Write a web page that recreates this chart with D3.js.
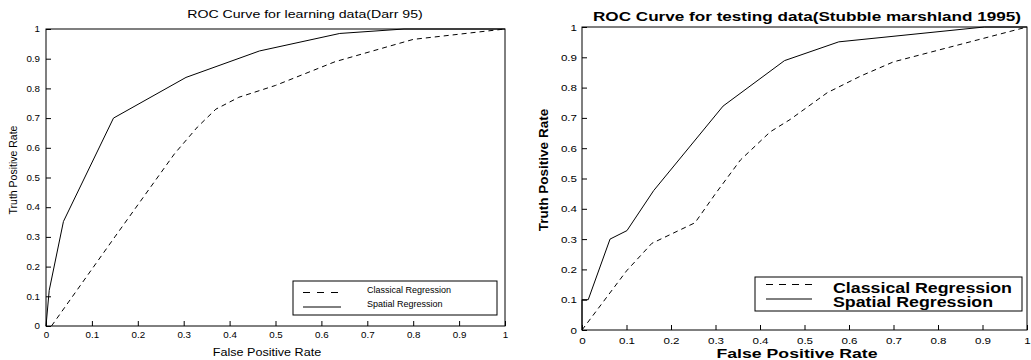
<!DOCTYPE html>
<html>
<head>
<meta charset="utf-8">
<script src="https://cdn.jsdelivr.net/npm/d3@7"></script>
<style>
  body { margin: 0; background: #fff; }
  svg text { font-family: "Liberation Sans", Arial, Helvetica, sans-serif; fill: #000; }
</style>
</head>
<body>
<div id="chart"></div>
<script>
// axis ticks shared by both panels
const tickValues = [0, 0.1, 0.2, 0.3, 0.4, 0.5, 0.6, 0.7, 0.8, 0.9, 1];
const tickLabels = ["0", "0.1", "0.2", "0.3", "0.4", "0.5", "0.6", "0.7", "0.8", "0.9", "1"];
const seriesNames = ["Classical Regression", "Spatial Regression"];

// learning data (Darr 95)
const learnClassicalFpr = [0.012, 0.15, 0.28, 0.33, 0.37, 0.42, 0.5, 0.63, 0.8, 1];
const learnClassicalTpr = [0, 0.30, 0.58, 0.67, 0.73, 0.77, 0.81, 0.89, 0.965, 1];
const learnSpatialFpr = [0, 0.007, 0.038, 0.147, 0.305, 0.465, 0.64, 0.78, 1];
const learnSpatialTpr = [0, 0.12, 0.352, 0.70, 0.837, 0.926, 0.985, 1, 1];

// testing data (Stubble marshland 1995)
const testClassicalFpr = [0, 0.1, 0.157, 0.254, 0.30, 0.356, 0.423, 0.468, 0.551, 0.626, 0.70, 1];
const testClassicalTpr = [0, 0.195, 0.286, 0.354, 0.45, 0.561, 0.654, 0.695, 0.783, 0.838, 0.885, 1];
const testSpatialFpr = [0, 0, 0.014, 0.063, 0.101, 0.161, 0.317, 0.455, 0.577, 0.904, 1];
const testSpatialTpr = [0, 0.1, 0.1, 0.30, 0.328, 0.46, 0.739, 0.889, 0.951, 1, 1];

const svg = d3.select("#chart").append("svg")
    .attr("width", 1031)
    .attr("height", 360);

function zip(xs, ys) {
    return xs.map((x, i) => ({ x: x, y: ys[i] }));
}

// the source figure was squeezed vertically, so text is drawn wider than tall
function wideText(parent, x, y, str, size, sx, bold) {
    return parent.append("text")
        .attr("transform", `translate(${x},${y}) scale(${sx},1)`)
        .style("font-size", size + "px")
        .style("font-weight", bold ? "bold" : "normal")
        .text(str);
}

function drawPanel(cfg) {
    const x = d3.scaleLinear().domain([0, 1]).range([cfg.left, cfg.right]);
    const y = d3.scaleLinear().domain([0, 1]).range([cfg.bottom, cfg.top]);
    const g = svg.append("g");

    // curves
    const line = d3.line().x(d => x(d.x)).y(d => y(d.y));
    g.append("path")
        .datum(zip(cfg.classicalFpr, cfg.classicalTpr))
        .attr("d", line)
        .attr("fill", "none")
        .attr("stroke", "#000")
        .attr("stroke-width", 1)
        .attr("stroke-dasharray", "5,4");
    g.append("path")
        .datum(zip(cfg.spatialFpr, cfg.spatialTpr))
        .attr("d", line)
        .attr("fill", "none")
        .attr("stroke", "#000")
        .attr("stroke-width", 1);

    // axes, ticks pointing inwards like matlab
    const xAxis = d3.axisBottom(x).tickValues(tickValues)
        .tickFormat((d, i) => tickLabels[i]).tickSizeInner(-cfg.tick).tickSizeOuter(0);
    const yAxis = d3.axisLeft(y).tickValues(tickValues)
        .tickFormat((d, i) => tickLabels[i]).tickSizeInner(-cfg.tick).tickSizeOuter(0);

    const gx = g.append("g").attr("transform", `translate(0,${cfg.bottom})`).call(xAxis);
    const gy = g.append("g").attr("transform", `translate(${cfg.left},0)`).call(yAxis);
    [gx, gy].forEach(a => {
        a.select(".domain").remove();
        a.selectAll("line").attr("stroke", "#000");
        a.selectAll("text")
            .style("font-size", cfg.tickFont + "px")
            .attr("fill", "#000")
            .attr("transform", `scale(${cfg.tickSx},1)`);
    });
    gx.selectAll("text").attr("y", cfg.xTickDy).attr("dy", "0");
    gy.selectAll("text").attr("x", -cfg.yTickGap / cfg.tickSx);

    // box
    g.append("rect")
        .attr("x", cfg.left).attr("y", cfg.top)
        .attr("width", cfg.right - cfg.left).attr("height", cfg.bottom - cfg.top)
        .attr("fill", "none").attr("stroke", "#000").attr("stroke-width", 1);

    // title and axis labels
    wideText(g, cfg.titleX, cfg.titleY, cfg.title, cfg.titleFont, cfg.titleSx, cfg.bold)
        .attr("text-anchor", "middle");
    wideText(g, cfg.xLabelX, cfg.xLabelY, "False Positive Rate", cfg.labelFont, cfg.labelSx, cfg.bold)
        .attr("text-anchor", "middle");
    g.append("text")
        .attr("transform", `translate(${cfg.yLabelX},${cfg.yLabelY}) rotate(-90)`)
        .attr("text-anchor", "middle")
        .style("font-size", cfg.yLabelFont + "px")
        .style("font-weight", cfg.bold ? "bold" : "normal")
        .text("Truth Positive Rate");

    // legend
    const lg = cfg.legend;
    g.append("rect")
        .attr("x", lg.x).attr("y", lg.y).attr("width", lg.w).attr("height", lg.h)
        .attr("fill", "#fff").attr("stroke", "#000").attr("stroke-width", 1);
    seriesNames.forEach((name, i) => {
        const ly = lg.rows[i];
        g.append("line")
            .attr("x1", lg.lineX1).attr("x2", lg.lineX2)
            .attr("y1", ly).attr("y2", ly)
            .attr("stroke", "#000").attr("stroke-width", 1)
            .attr("stroke-dasharray", i === 0 ? lg.dash : null);
        wideText(g, lg.textX, ly + lg.textDy, name, lg.font, lg.sx, cfg.bold);
    });
}

drawPanel({
    left: 46, right: 505, top: 29, bottom: 326, tick: 5,
    tickFont: 8.5, tickSx: 1.15, xTickDy: 12, yTickGap: 6,
    title: "ROC Curve for learning data(Darr 95)", titleX: 305, titleY: 18, titleFont: 11.5, titleSx: 1.23,
    bold: false, labelFont: 10.5, labelSx: 1.2, xLabelX: 267, xLabelY: 356,
    yLabelFont: 10.5, yLabelX: 17, yLabelY: 170,
    classicalFpr: learnClassicalFpr, classicalTpr: learnClassicalTpr,
    spatialFpr: learnSpatialFpr, spatialTpr: learnSpatialTpr,
    legend: { x: 293, y: 281, w: 204, h: 34, rows: [292.5, 307], lineX1: 303, lineX2: 341,
              dash: "7,7", textX: 367, textDy: 0, font: 9, sx: 1 }
});

drawPanel({
    left: 582, right: 1027, top: 27, bottom: 330, tick: 5,
    tickFont: 9.5, tickSx: 1.22, xTickDy: 14, yTickGap: 5,
    title: "ROC Curve for testing data(Stubble marshland 1995)", titleX: 807, titleY: 20.5, titleFont: 12.5, titleSx: 1.37,
    bold: true, labelFont: 13, labelSx: 1.36, xLabelX: 797, xLabelY: 358,
    yLabelFont: 13.5, yLabelX: 548, yLabelY: 170,
    classicalFpr: testClassicalFpr, classicalTpr: testClassicalTpr,
    spatialFpr: testSpatialFpr, spatialTpr: testSpatialTpr,
    legend: { x: 755, y: 277, w: 267, h: 34, rows: [284.5, 299], lineX1: 766, lineX2: 812,
              dash: "7,6", textX: 833, textDy: 8, font: 14, sx: 1.27 }
});
</script>
</body>
</html>
